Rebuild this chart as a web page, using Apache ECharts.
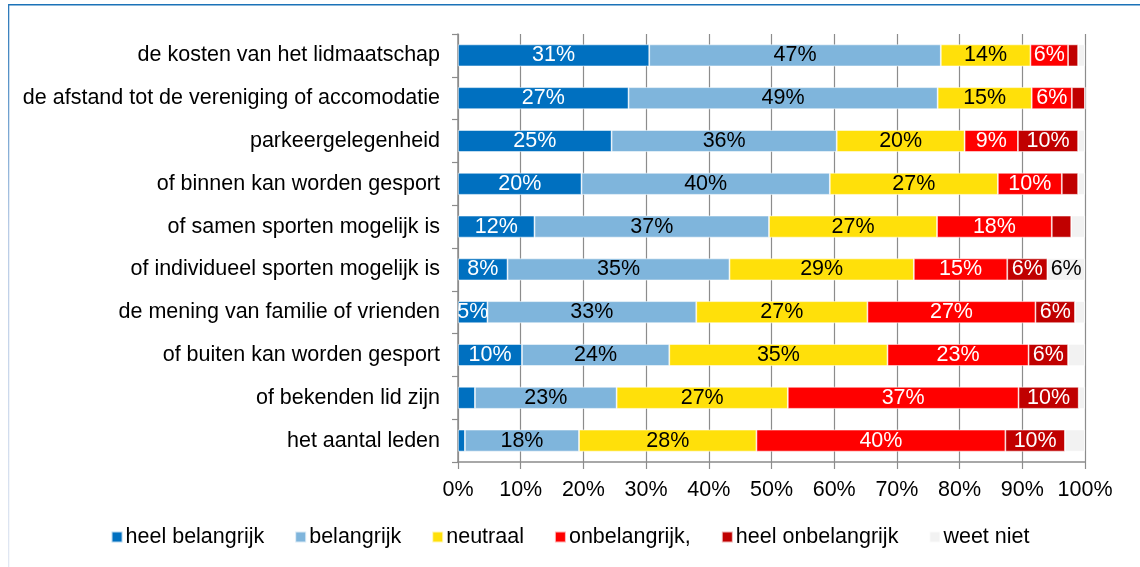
<!DOCTYPE html>
<html>
<head>
<meta charset="utf-8">
<script src="https://cdn.jsdelivr.net/npm/echarts@6/dist/echarts.min.js"></script>
<style>
  html, body { margin: 0; padding: 0; background: #fff; }
  #chartmain { width: 1140px; height: 567px; }
</style>
</head>
<body>
<div id="chartmain"></div>
<script>
// categorieen, van boven naar beneden
var categories = [
    'de kosten van het lidmaatschap',
    'de afstand tot de vereniging of accomodatie',
    'parkeergelegenheid',
    'of binnen kan worden gesport',
    'of samen sporten mogelijk is',
    'of individueel sporten mogelijk is',
    'de mening van familie of vrienden',
    'of buiten kan worden gesport',
    'of bekenden lid zijn',
    'het aantal leden'
];

// percentages per antwoord
var heelBelangrijk   = [30.5, 27.2, 24.5, 19.7, 12.2, 7.9, 4.7, 10.2, 2.7, 1.1];
var belangrijk       = [46.5, 49.3, 35.9, 39.6, 37.4, 35.4, 33.3, 23.5, 22.6, 18.2];
var neutraal         = [14.3, 15.0, 20.4, 26.8, 26.8, 29.4, 27.3, 34.8, 27.3, 28.3];
var onbelangrijk     = [6.0, 6.4, 8.5, 10.2, 18.3, 14.9, 26.8, 22.5, 36.8, 39.7];
var heelOnbelangrijk = [1.6, 2.1, 9.6, 2.6, 3.1, 6.4, 6.3, 6.3, 9.6, 9.5];
var weetNiet         = [1.1, 0.0, 1.1, 1.1, 2.2, 6.0, 1.6, 2.7, 1.0, 3.2];

var xTicks = [0, 10, 20, 30, 40, 50, 60, 70, 80, 90, 100];

var fontFam = '"Liberation Sans", Arial, sans-serif';
var fs = 21.5;

// maakt een serie met label (alleen bij voldoende breedte)
function maakSerie(naam, data, kleur, tekstKleur) {
    return {
        name: naam,
        type: 'bar',
        stack: 'totaal',
        barWidth: 22,
        data: data,
        itemStyle: {
            color: kleur,
            borderColor: 'rgba(255,255,255,0.7)',
            borderWidth: 0.8
        },
        label: {
            show: true,
            position: 'inside',
            color: tekstKleur,
            fontFamily: fontFam,
            fontSize: fs,
            formatter: function (p) {
                if (p.value < 4) return '';
                return Math.round(p.value) + '%';
            }
        }
    };
}

var myChart = echarts.init(document.getElementById('chartmain'));

var option = {
    backgroundColor: '#fff',
    animation: false,
    textStyle: { fontFamily: fontFam },
    grid: { left: 458, right: 55, top: 34, bottom: 105, containLabel: false },
    legend: {
        top: 521,
        left: 'center',
        icon: 'rect',
        itemWidth: 11,
        itemHeight: 11,
        itemGap: 30,
        textStyle: { fontSize: fs, color: '#000', fontFamily: fontFam, padding: [0, 0, 0, -2] },
        data: ['heel belangrijk', 'belangrijk', 'neutraal', 'onbelangrijk,', 'heel onbelangrijk', 'weet niet']
    },
    xAxis: {
        type: 'value',
        min: 0,
        max: 100,
        interval: 10,
        axisLine: { show: true, lineStyle: { color: '#8c8c8c', width: 1.5 } },
        axisTick: { show: true, length: 7, lineStyle: { color: '#8c8c8c', width: 1.2 } },
        splitLine: { show: true, lineStyle: { color: '#8c8c8c', width: 1.2 } },
        axisLabel: {
            margin: 17,
            fontSize: fs,
            color: '#000',
            fontFamily: fontFam,
            formatter: function (v) { return xTicks.indexOf(v) >= 0 ? v + '%' : ''; }
        }
    },
    yAxis: {
        type: 'category',
        inverse: true,
        data: categories,
        axisLine: { show: true, lineStyle: { color: '#8c8c8c', width: 1.5 } },
        axisTick: { show: true, length: 6, lineStyle: { color: '#8c8c8c', width: 1.2 } },
        axisLabel: { margin: 18, fontSize: fs, color: '#000', fontFamily: fontFam }
    },
    series: [
        maakSerie('heel belangrijk', heelBelangrijk, '#0070C0', '#fff'),
        maakSerie('belangrijk', belangrijk, '#7FB5DC', '#000'),
        maakSerie('neutraal', neutraal, '#FFE00A', '#000'),
        maakSerie('onbelangrijk,', onbelangrijk, '#FF0000', '#fff'),
        maakSerie('heel onbelangrijk', heelOnbelangrijk, '#C00000', '#fff'),
        maakSerie('weet niet', weetNiet, '#F2F2F2', '#000')
    ],
    graphic: [
        // kader rond de figuur
        { type: 'rect', left: 8, top: 4, shape: { width: 1132, height: 1.6 }, style: { fill: '#1B72B8' } },
        {
            type: 'rect', left: 8, top: 4, shape: { width: 1.3, height: 563 },
            style: {
                fill: new echarts.graphic.LinearGradient(0, 0, 0, 1, [
                    { offset: 0, color: '#2A78BA' },
                    { offset: 0.4, color: '#B9CCE6' },
                    { offset: 1, color: '#E2E8F3' }
                ])
            }
        }
    ]
};

myChart.setOption(option);
window.addEventListener('resize', function () {
    myChart.resize();
});
</script>
</body>
</html>
